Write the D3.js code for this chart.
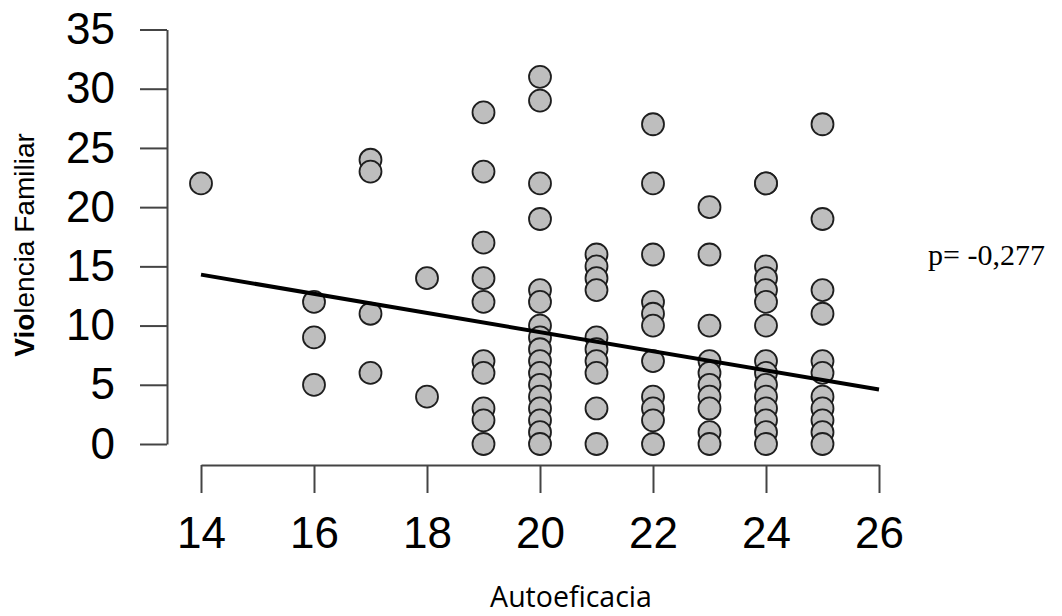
<!DOCTYPE html>
<html>
<head>
<meta charset="utf-8">
<script src="https://cdn.jsdelivr.net/npm/d3@7"></script>
<style>
  html, body { margin: 0; padding: 0; background: #fff; }
  svg { display: block; }
</style>
</head>
<body>
<script>
// ---- data ----
const autoeficacia = [14, 16, 17, 18, 19, 20, 21, 22, 23, 24, 25];
const violencia = [
  [22],
  [12, 9, 5],
  [24, 23, 11, 6],
  [14, 4],
  [28, 23, 17, 14, 12, 7, 6, 3, 2, 0],
  [31, 29, 22, 19, 13, 12, 10, 9, 8, 7, 6, 5, 4, 3, 2, 1, 0],
  [16, 15, 14, 13, 9, 8, 7, 6, 3, 0],
  [27, 22, 16, 12, 11, 10, 7, 4, 3, 2, 0],
  [20, 16, 10, 7, 6, 5, 4, 3, 1, 0],
  [22, 22, 15, 14, 13, 12, 10, 7, 6, 5, 4, 3, 2, 1, 0],
  [27, 19, 13, 11, 7, 6, 4, 3, 2, 1, 0]
];
const regression = [[14, 14.3], [26, 4.6]];
const xTicks = [14, 16, 18, 20, 22, 24, 26];
const yTicks = [0, 5, 10, 15, 20, 25, 30, 35];
const xTitle = "Autoeficacia";
const yTitleBold = "Vio";
const yTitleRest = "lencia Familiar";
const corrLabel = "p= -0,277";

const points = [];
autoeficacia.forEach((xv, i) => violencia[i].forEach(yv => points.push({x: xv, y: yv})));

// ---- chart ----
const W = 1062, H = 616;
const svg = d3.select("body").append("svg").attr("width", W).attr("height", H);

const x = d3.scaleLinear().domain([14, 26]).range([201, 879]);
const y = d3.scaleLinear().domain([0, 35]).range([444, 29.5]);

const tickFont = "'Liberation Sans', Arial, sans-serif";

// y axis
const yAxis = svg.append("g").attr("transform", "translate(167,0)")
  .call(d3.axisLeft(y).tickValues(yTicks).tickSize(27).tickPadding(25).tickSizeOuter(0));
// x axis
const xAxis = svg.append("g").attr("transform", "translate(0,465)")
  .call(d3.axisBottom(x).tickValues(xTicks).tickSize(28).tickPadding(24).tickSizeOuter(0));

[yAxis, xAxis].forEach(g => {
  g.select(".domain").attr("stroke", "#444").attr("stroke-width", 2);
  g.selectAll(".tick line").attr("stroke", "#444").attr("stroke-width", 2);
  g.selectAll(".tick text").attr("fill", "#000")
    .style("font-family", tickFont).style("font-size", "44px");
});

// points
svg.append("g").selectAll("circle").data(points).join("circle")
  .attr("cx", d => x(d.x)).attr("cy", d => y(d.y)).attr("r", 11)
  .attr("fill", "#bebebe").attr("stroke", "#1e1e1e").attr("stroke-width", 1.8);

// regression line
svg.append("path")
  .attr("d", d3.line().x(d => x(d[0])).y(d => y(d[1]))(regression))
  .attr("stroke", "#000").attr("stroke-width", 4).attr("fill", "none");

// axis titles
svg.append("text").attr("x", 571).attr("y", 607).attr("text-anchor", "middle")
  .style("font-family", "'Open Sans', sans-serif").style("font-size", "28.5px")
  .attr("fill", "#000").text(xTitle);

const yt = svg.append("text")
  .attr("transform", "translate(34,245) rotate(-90)").attr("text-anchor", "middle")
  .style("font-family", "'Liberation Sans', Arial, sans-serif").style("font-size", "28px")
  .attr("fill", "#000");
yt.append("tspan").attr("font-weight", "bold").text(yTitleBold);
yt.append("tspan").text(yTitleRest);

// correlation label
svg.append("text").attr("x", 928).attr("y", 265)
  .style("font-family", "'Liberation Serif', 'Times New Roman', serif").style("font-size", "30px")
  .attr("fill", "#000").text(corrLabel);
</script>
</body>
</html>
